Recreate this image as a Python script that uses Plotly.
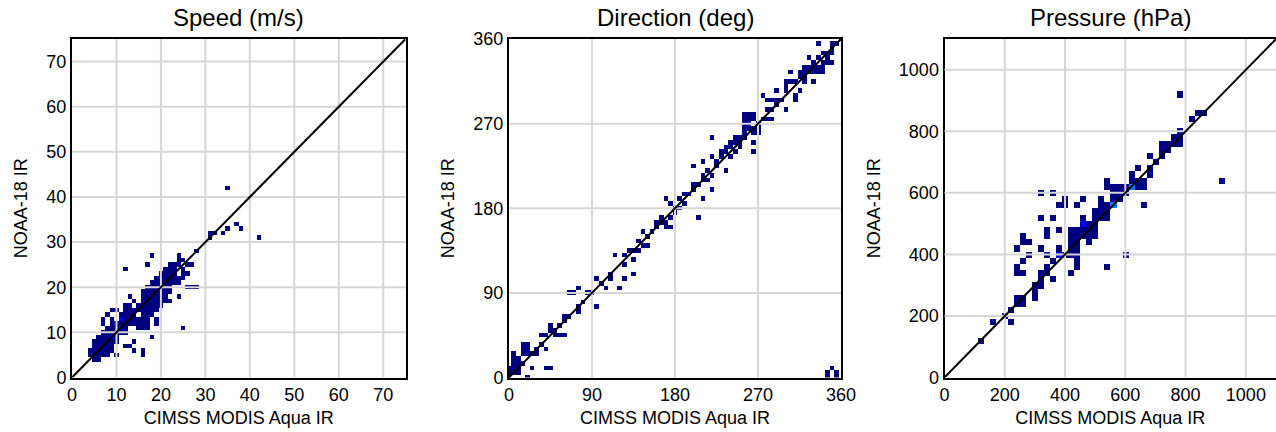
import numpy as np
import plotly.graph_objects as go

# ---------------- binned collocation counts ----------------
# Speed (m/s), 1 m/s bins centred on integers
spd_x = [5, 6,
         4, 5, 6, 7, 8, 10, 16,
         4, 5, 6, 7, 8, 9, 14, 16,
         5, 6, 7, 8, 9, 12, 13,
         5, 6, 7, 8, 9, 10, 14,
         6, 7, 8, 9, 10, 18,
         7, 8, 9, 10, 11, 12,
         8, 9, 10, 11, 12, 15, 16, 17, 25,
         7, 9, 10, 11, 12, 13, 14, 15, 16, 17, 19,
         7, 9, 11, 12, 13, 14, 15, 16, 17, 19,
         8, 11, 12, 13, 14, 16, 17, 18,
         9, 10, 12, 13, 14, 15, 16, 17, 18, 19,
         12, 13, 15, 16, 17, 18, 19, 20,
         14, 16, 17, 18, 19, 20, 21, 22,
         13, 16, 17, 18, 19, 20, 21, 24,
         16, 17, 18, 19, 20, 21, 22,
         17, 18, 19, 20, 21, 22, 26, 27, 28,
         18, 19, 20, 21, 22, 23, 24,
         19, 20, 21, 22, 23, 24, 25,
         20, 21, 22, 23, 25, 26,
         12, 21, 22, 23, 25,
         17, 22, 23, 24, 26, 27,
         24, 25,
         18, 24,
         28,
         31, 42,
         31, 32, 34,
         35, 38,
         37,
         35]
spd_y = [4] * 2 + [5] * 7 + [6] * 8 + [7] * 7 + [8] * 7 + [9] * 6 + [10] * 6 + \
        [11] * 9 + [12] * 11 + [13] * 10 + [14] * 8 + [15] * 10 + [16] * 8 + \
        [17] * 8 + [18] * 8 + [19] * 7 + [20] * 9 + [21] * 7 + [22] * 7 + \
        [23] * 6 + [24] * 5 + [25] * 6 + [26] * 2 + [27] * 2 + [28] + \
        [31] * 2 + [32] * 3 + [33] * 2 + [34] + [42]
# extra counts on top of the single hits above
spd_extra_x = [9, 11, 11]
spd_extra_y = [9, 11, 13]

# Direction (deg), 5 deg bins
dir_x = [0, 0, 5, 5, 10, 15, 10, 5, 10, 15, 20, 20, 20, 25, 40, 45, 40, 35, 40,
         45, 50, 55, 60, 60, 60, 75, 75, 70, 75, 65, 85, 95, 95, 105, 110, 120,
         125, 135, 115, 125, 135, 130, 135, 140, 145, 150, 145, 150, 160, 170,
         175, 170, 175, 170, 175, 185, 190, 185, 190, 195, 200, 205, 210, 205,
         210, 215, 220, 210, 210, 220, 220, 220, 230, 235, 230, 235, 240, 240,
         245, 245, 250, 250, 265, 265, 255, 260, 265, 260, 255, 260, 265, 270,
         275, 280, 285, 285, 280, 275, 285, 290, 290, 300, 300, 305, 300, 310,
         315, 310, 305, 315, 320, 325, 320, 315, 325, 330, 335, 335, 340, 340,
         345, 350, 345, 350, 350, 355, 345, 345, 350, 355, 355,
         25, 30, 35, 50, 55, 65, 80, 90, 100, 110, 155, 165, 180, 200, 225,
         255, 270, 295, 330, 360,
         5, 10, 30, 45, 125, 140, 160, 165, 180, 190, 200, 215, 225, 245, 250,
         255, 270, 280, 310, 320, 330, 340, 345, 350,
         0, 5, 10, 15, 15, 20, 5, 255, 255, 270, 270, 260, 265, 330, 330, 335,
         340, 320, 325, 335, 345, 235, 240, 290, 300]
dir_y = [0, 5, 5, 10, 10, 15, 15, 25, 20, 35, 35, 30, 0, 10, 10, 10, 30, 45, 45,
         55, 45, 45, 45, 60, 65, 70, 75, 90, 95, 90, 90, 75, 105, 95, 105, 95,
         105, 110, 130, 130, 125, 135, 135, 135, 140, 140, 155, 150, 165, 160,
         160, 165, 170, 190, 185, 180, 185, 190, 195, 195, 225, 170, 190, 205,
         210, 210, 215, 215, 230, 235, 255, 200, 235, 220, 240, 245, 245, 250,
         250, 255, 255, 250, 250, 240, 275, 275, 280, 270, 265, 265, 265, 260,
         275, 275, 275, 285, 295, 300, 295, 295, 305, 285, 310, 315, 315, 295,
         305, 300, 325, 320, 325, 330, 330, 325, 340, 315, 355, 325, 325, 335,
         335, 335, 345, 345, 355, 355, 0, 5, 10, 5, 0,
         25, 30, 35, 50, 55, 65, 80, 90, 100, 110, 155, 165, 180, 200, 225,
         255, 270, 295, 330, 360,
         15, 5, 25, 50, 120, 145, 160, 170, 175, 195, 205, 220, 230, 240, 245,
         260, 265, 285, 315, 315, 335, 345, 340, 350,
         10, 15, 20, 30, 25, 25, 20, 270, 280, 270, 265, 280, 275, 325, 330, 330,
         330, 320, 325, 340, 340, 240, 235, 290, 305]
dir_extra_x = [195, 265]
dir_extra_y = [195, 260]

# Pressure (hPa), 20 hPa bins
prs_x = [120, 160, 220, 200, 220, 240, 260, 240, 260, 300, 300, 300, 320, 320,
         320, 340, 360, 340, 240, 240, 260, 260, 240, 260, 280, 260, 280, 320,
         340, 380, 400, 380, 420, 440, 540, 600, 320, 340, 340, 360, 380, 380,
         400, 400, 440, 460, 420, 420, 420, 420, 440, 440, 440, 440, 420, 440,
         460, 460, 460, 480, 480, 480, 500, 500, 500, 480, 500, 500, 520, 520,
         520, 540, 520, 540, 540, 560, 540, 540, 560, 580, 560, 580, 580, 560,
         620, 600, 620, 640, 620, 640, 640, 660, 660, 660, 680, 680, 680, 700,
         720, 720, 720, 740, 740, 760, 780, 760, 780, 780, 780, 820, 840, 860,
         920, 320, 360, 580, 600, 360, 440, 560, 460]
prs_y = [120, 180, 180, 200, 220, 240, 240, 260, 260, 280, 260, 300, 300, 320,
         340, 340, 320, 360, 340, 360, 340, 380, 420, 440, 440, 460, 400, 420,
         400, 400, 400, 420, 340, 360, 360, 400, 520, 480, 460, 520, 480, 560,
         560, 580, 560, 580, 420, 440, 460, 480, 440, 460, 480, 420, 400, 400,
         500, 460, 480, 460, 480, 500, 480, 500, 460, 440, 520, 540, 520, 540,
         560, 540, 580, 520, 560, 560, 640, 620, 620, 620, 580, 580, 600, 600,
         620, 620, 640, 640, 660, 620, 680, 560, 640, 620, 660, 680, 720, 700,
         720, 740, 760, 740, 760, 760, 760, 780, 780, 800, 920, 840, 860, 860,
         640, 600, 600, 600, 600, 380, 380, 580, 520]
prs_extra_x = [380, 460, 560, 560, 620, 620]
prs_extra_y = [400, 500, 560, 560, 620, 620]

# ---------------- panel settings ----------------
titles = ["Speed (m/s)", "Direction (deg)", "Pressure (hPa)"]
x_label = "CIMSS MODIS Aqua IR"
y_label = "NOAA-18 IR"
bin_sizes = [1, 5, 20]
axis_max = [75, 360, 1100]
tick_values = [list(range(0, 71, 10)), [0, 90, 180, 270, 360], list(range(0, 1001, 200))]

x_domains = [[72 / 1276, 405.5 / 1276], [509 / 1276, 841 / 1276], [944.5 / 1276, 1.0]]
y_domain = [1 - 377.5 / 432, 1 - 39 / 432]

colorscale = [[0.0, "#000080"], [0.125, "#0000ff"], [0.375, "#00ffff"],
              [0.625, "#ffff00"], [0.875, "#ff0000"], [1.0, "#800000"]]
FONT = "Liberation Sans"


def count_grid(xs, ys, ex_x, ex_y, step, vmax):
    centers = np.arange(0, vmax + step, step)
    z = np.zeros((len(centers), len(centers)))
    for x, y in set(zip(xs, ys)):
        z[int(round(y / step)), int(round(x / step))] += 1
    for x, y in zip(ex_x, ex_y):
        z[int(round(y / step)), int(round(x / step))] += 1
    z[z == 0] = np.nan
    return centers, z


panels = [
    (spd_x, spd_y, spd_extra_x, spd_extra_y),
    (dir_x, dir_y, dir_extra_x, dir_extra_y),
    (prs_x, prs_y, prs_extra_x, prs_extra_y),
]

fig = go.Figure()
shapes = []
annotations = []
layout = {}

for i, (xs, ys, exx, exy) in enumerate(panels):
    n = i + 1
    sfx = "" if n == 1 else str(n)
    centers, z = count_grid(xs, ys, exx, exy, bin_sizes[i], axis_max[i])
    fig.add_trace(go.Heatmap(
        x=centers, y=centers, z=z, colorscale=colorscale, zmin=1, zmax=9,
        showscale=False, hoverongaps=False,
        xaxis="x" + sfx, yaxis="y" + sfx,
    ))

    rng = [0, axis_max[i]]
    common = dict(
        range=rng, showgrid=False, zeroline=False, showline=True,
        linecolor="black", linewidth=2, ticks="", tickvals=tick_values[i],
        tickfont=dict(family=FONT, size=18, color="black"),
        fixedrange=True, automargin=False,
    )
    layout["xaxis" + sfx] = dict(
        common, domain=x_domains[i], anchor="y" + sfx, mirror=True,
        title=dict(text=x_label, font=dict(family=FONT, size=18, color="black"), standoff=7),
    )
    layout["yaxis" + sfx] = dict(
        common, domain=y_domain, anchor="x" + sfx, mirror=(n != 3),
        title=dict(text=y_label, font=dict(family=FONT, size=18, color="black"), standoff=14),
    )

    xr, yr = "x" + sfx, "y" + sfx
    # grid lines drawn over the counts
    for t in tick_values[i]:
        if t <= 0 or t >= axis_max[i]:
            continue
        shapes.append(dict(type="line", xref=xr, yref=yr + " domain", x0=t, x1=t, y0=0, y1=1,
                           line=dict(color="#d6d6d6", width=2), layer="above"))
        shapes.append(dict(type="line", xref=xr + " domain", yref=yr, x0=0, x1=1, y0=t, y1=t,
                           line=dict(color="#d6d6d6", width=2), layer="above"))
    # one-to-one reference line
    shapes.append(dict(type="line", xref=xr, yref=yr, x0=rng[0], y0=rng[0], x1=rng[1], y1=rng[1],
                       line=dict(color="black", width=2), layer="above"))

    annotations.append(dict(
        text=titles[i], xref="paper", yref="paper",
        x=(x_domains[i][0] + (x_domains[i][0] + 333 / 1276)) / 2, y=1 - 18 / 432,
        xanchor="center", yanchor="middle", showarrow=False,
        font=dict(family=FONT, size=24, color="black"),
    ))

fig.update_layout(
    width=1276, height=432,
    margin=dict(l=0, r=0, t=0, b=0),
    paper_bgcolor="white", plot_bgcolor="white",
    shapes=shapes, annotations=annotations,
    showlegend=False,
    **layout,
)

fig.write_html("out.html", config={"displayModeBar": False})
